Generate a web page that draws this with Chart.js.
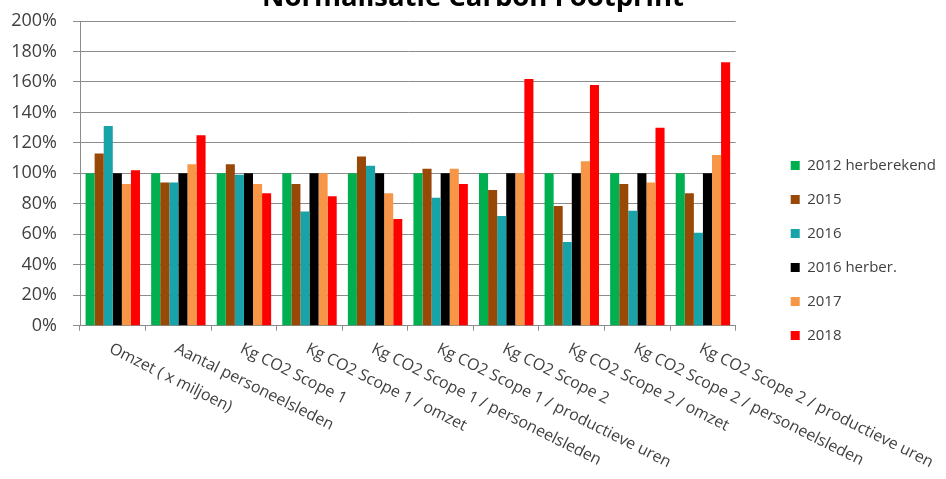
<!DOCTYPE html>
<html>
<head>
<meta charset="utf-8">
<script src="https://cdn.jsdelivr.net/npm/chart.js@4.4.1/dist/chart.umd.min.js"></script>
<style>
    html, body { margin: 0; padding: 0; background: #fff; overflow: hidden; }
    #wrap { position: absolute; left: 0; top: 0; width: 946px; height: 501px; }
</style>
</head>
<body>
<div id="wrap"><canvas id="chart"></canvas></div>
<script>
const categorieen = [
    'Omzet ( x miljoen)',
    'Aantal personeelsleden',
    'Kg CO2 Scope 1',
    'Kg CO2 Scope 1 / omzet',
    'Kg CO2 Scope 1 / personeelsleden',
    'Kg CO2 Scope 1 / productieve uren',
    'Kg CO2 Scope 2',
    'Kg CO2 Scope 2 / omzet',
    'Kg CO2 Scope 2 / personeelsleden',
    'Kg CO2 Scope 2 / productieve uren'
];

const reeksNamen = ['2012 herberekend', '2015', '2016', '2016 herber.', '2017', '2018'];
const kleuren = ['#00B050', '#984807', '#17A3A7', '#000000', '#F79646', '#FF0000'];

const waarden2012 = [100, 100, 100, 100, 100, 100, 100, 100, 100, 100];
const waarden2015 = [113, 94, 106, 93, 111, 103, 89, 78.5, 93, 87];
const waarden2016 = [131, 94, 99, 75, 105, 84, 72, 55, 75.5, 61];
const waarden2016h = [100, 100, 100, 100, 100, 100, 100, 100, 100, 100];
const waarden2017 = [93, 106, 93, 100, 87, 103, 100, 108, 94, 112];
const waarden2018 = [102, 125, 87, 85, 70, 93, 162, 158, 130, 173];

const yTicks = [0, 20, 40, 60, 80, 100, 120, 140, 160, 180, 200];

const alleWaarden = [waarden2012, waarden2015, waarden2016, waarden2016h, waarden2017, waarden2018];

// schuine categorie-labels zoals in Excel (beginnen bij de categorie en lopen naar rechtsonder)
const schuineLabels = {
    id: 'schuineLabels',
    afterDraw(chart) {
        const ctx = chart.ctx;
        const x = chart.scales.x;
        ctx.save();
        ctx.font = '16px "Open Sans"';
        ctx.fillStyle = '#404040';
        ctx.textAlign = 'left';
        ctx.textBaseline = 'top';
        categorieen.forEach((label, i) => {
            const px = x.getPixelForValue(i);
            ctx.save();
            ctx.translate(px + 1, x.top + 15);
            ctx.rotate(26.5 * Math.PI / 180);
            ctx.fillText(label, 0, 0);
            ctx.restore();
        });
        ctx.restore();
    }
};

const gridKleur = '#8c8c8c';

async function maakGrafiek() {
    // eerst de lettertypes laden, anders klopt de breedte van de legenda niet
    try {
        await Promise.all([
            document.fonts.load('15px "Open Sans"'),
            document.fonts.load('16px "Open Sans"'),
            document.fonts.load('18px "Open Sans"'),
            document.fonts.load('bold 27px "Open Sans"')
        ]);
    } catch (e) {
        console.error('Fonts niet geladen:', e);
    }

    new Chart(document.getElementById('chart'), {
        type: 'bar',
        data: {
            labels: categorieen,
            datasets: reeksNamen.map((naam, i) => ({
                label: naam,
                data: alleWaarden[i],
                backgroundColor: kleuren[i],
                borderWidth: 0,
                categoryPercentage: 0.83,
                barPercentage: 1.0
            }))
        },
        options: {
            responsive: true,
            maintainAspectRatio: false,
            animation: false,
            layout: { padding: { left: 0, right: 0, top: 0, bottom: 0 } },
            plugins: {
                title: {
                    display: true,
                    text: 'Normalisatie Carbon Footprint',
                    color: '#000',
                    font: { family: 'Open Sans', size: 27.5, weight: 'bold' },
                    padding: { top: -18, bottom: 6 }
                },
                legend: {
                    position: 'right',
                    maxWidth: 220,
                    labels: {
                        boxWidth: 9,
                        boxHeight: 9,
                        padding: 19,
                        color: '#404040',
                        font: { family: 'Open Sans', size: 15 }
                    }
                },
                tooltip: { enabled: false }
            },
            scales: {
                x: {
                    grid: { drawOnChartArea: false, drawTicks: true, tickLength: 5, color: gridKleur, offset: true },
                    border: { color: gridKleur },
                    ticks: { display: false },
                    afterFit: (s) => { s.height = 175.3; }
                },
                y: {
                    min: 0,
                    max: 200,
                    afterBuildTicks: (s) => { s.ticks = yTicks.map(v => ({ value: v })); },
                    grid: { color: gridKleur, tickLength: 7 },
                    border: { color: gridKleur },
                    ticks: {
                        padding: 16,
                        color: '#404040',
                        font: { family: 'Open Sans', size: 18 },
                        callback: (v) => v + '%'
                    },
                    afterFit: (s) => {
                        s.width = 80;
                        s.paddingTop = 10;
                        s.paddingBottom = 10;
                    }
                },
                ruimte: {
                    position: 'right',
                    display: true,
                    grid: { display: false },
                    border: { display: false },
                    ticks: { display: false },
                    afterFit: (s) => { s.width = 36; }
                }
            }
        },
        plugins: [schuineLabels]
    });
}

maakGrafiek();
</script>
</body>
</html>
